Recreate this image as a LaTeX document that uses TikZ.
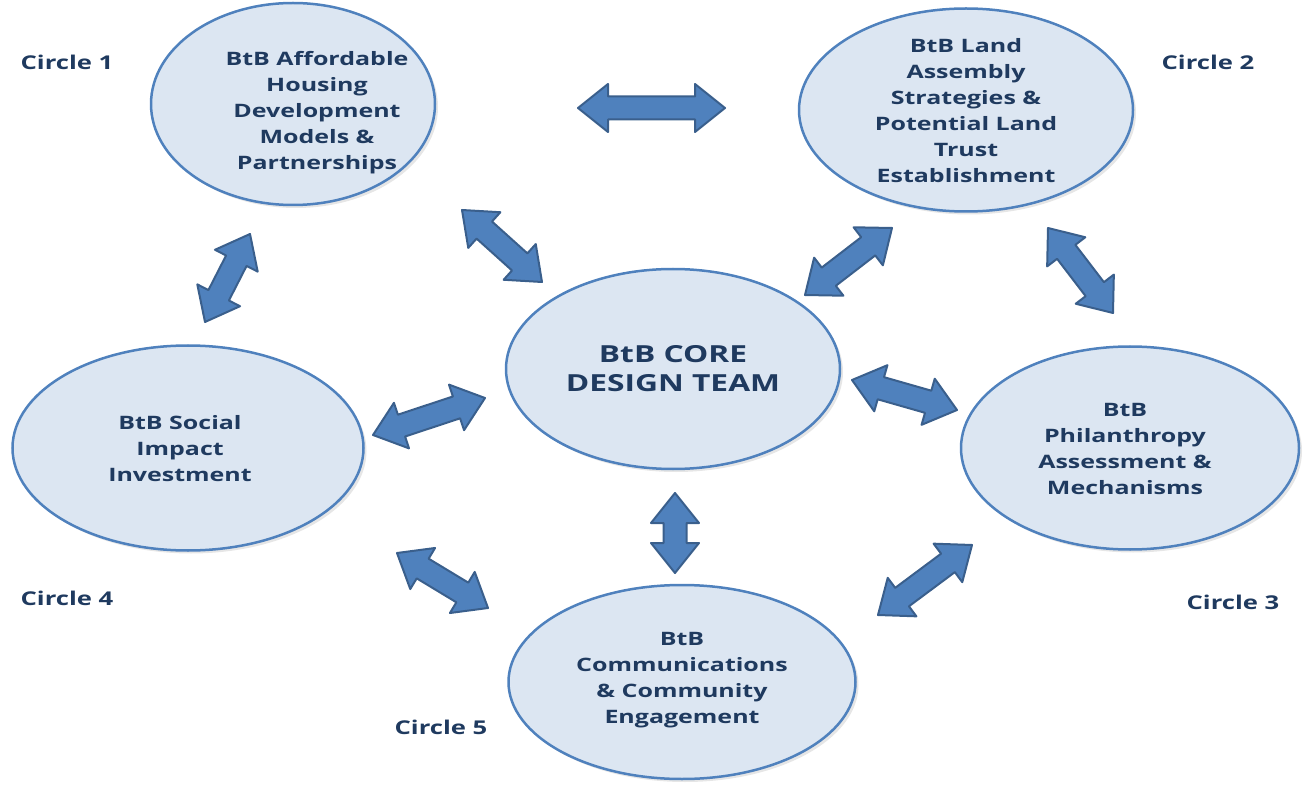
\documentclass[tikz,border=0pt]{standalone}
\usepackage{fontspec}
\setmainfont{Open Sans}[FakeStretch=1.35]
\usetikzlibrary{shapes.geometric,calc,shadows}

\definecolor{circfill}{HTML}{DCE6F2}
\definecolor{circline}{HTML}{4F81BD}
\definecolor{arrfill}{HTML}{4F81BD}
\definecolor{arrline}{HTML}{3A5F8C}
\definecolor{navy}{HTML}{1F3A5F}

\tikzset{
  circ/.style={ellipse, draw=circline, line width=2.5pt, fill=circfill, inner sep=0pt,
    drop shadow={opacity=0.2, shadow xshift=3pt, shadow yshift=-3pt}},
  circtext/.style={text=navy, font=\bfseries\fontsize{18.5}{26}\selectfont, align=center},
  coretext/.style={text=navy, font=\bfseries\fontsize{23.5}{29}\selectfont, align=center},
  circlabel/.style={text=navy, font=\bfseries\fontsize{19}{24}\selectfont},
  arrowbody/.style={fill=arrfill, draw=arrline, line width=2pt, line join=round},
}

% double block arrow from #1 to #2
\newcommand{\dblarrow}[2]{%
  \filldraw[arrowbody] (#1)
    -- ($(#1)!30pt!(#2)!24pt!90:(#2)$)
    -- ($(#1)!30pt!(#2)!11.5pt!90:(#2)$)
    -- ($(#2)!30pt!(#1)!11.5pt!-90:(#1)$)
    -- ($(#2)!30pt!(#1)!24pt!-90:(#1)$)
    -- (#2)
    -- ($(#2)!30pt!(#1)!24pt!90:(#1)$)
    -- ($(#2)!30pt!(#1)!11.5pt!90:(#1)$)
    -- ($(#1)!30pt!(#2)!11.5pt!-90:(#2)$)
    -- ($(#1)!30pt!(#2)!24pt!-90:(#2)$)
    -- cycle;}

\begin{document}
\begin{tikzpicture}[x=1pt,y=-1pt]
  \useasboundingbox (0,0) rectangle (1307,786);

  %circles
  \node[circ, minimum width=284pt, minimum height=202pt] (c1) at (293,104) {};
  \node[circ, minimum width=334pt, minimum height=203pt] (c2) at (966,110) {};
  \node[circ, minimum width=334pt, minimum height=200pt] (core) at (673,369) {};
  \node[circ, minimum width=338pt, minimum height=203pt] (c3) at (1130,448) {};
  \node[circ, minimum width=351pt, minimum height=205pt] (c4) at (188,448) {};
  \node[circ, minimum width=347pt, minimum height=194pt] (c5) at (682,682) {};

  %circle texts
  \node[circtext] (c1txt) at ([xshift=24pt,yshift=-9pt]c1.center) {BtB Affordable\\Housing\\Development\\Models \&\\Partnerships};
  \node[circtext] (c2txt) at ([yshift=-1pt]c2.center) {BtB Land\\Assembly\\Strategies \&\\Potential Land\\Trust\\Establishment};
  \node[coretext] (coretxt) at ([yshift=0pt]core.center) {BtB CORE\\DESIGN TEAM};
  \node[circtext] (c3txt) at ([xshift=-5pt,yshift=-1pt]c3.center) {BtB\\Philanthropy\\Assessment \&\\Mechanisms};
  \node[circtext] (c4txt) at ([xshift=-8pt,yshift=-1pt]c4.center) {BtB Social\\Impact\\Investment};
  \node[circtext] (c5txt) at ([yshift=2pt]c5.center) {BtB\\Communications\\\& Community\\Engagement};

  %labels
  \node[circlabel] (lab1) at (67,62) {Circle 1};
  \node[circlabel] (lab2) at (1208,62) {Circle 2};
  \node[circlabel] (lab3) at (1233,602) {Circle 3};
  \node[circlabel] (lab4) at (67,598) {Circle 4};
  \node[circlabel] (lab5) at (441,727) {Circle 5};

  %arrow ends
  \coordinate (a1s) at (578,108);  \coordinate (a1e) at (725,108);
  \coordinate (a2s) at (462,210);  \coordinate (a2e) at (542,282);
  \coordinate (a3s) at (205,322);  \coordinate (a3e) at (250,234);
  \coordinate (a4s) at (805,295);  \coordinate (a4e) at (892,228);
  \coordinate (a5s) at (1048,228); \coordinate (a5e) at (1113,313);
  \coordinate (a6s) at (373,435);  \coordinate (a6e) at (485,398);
  \coordinate (a7s) at (852,380);  \coordinate (a7e) at (957,410);
  \coordinate (a8s) at (675,493);  \coordinate (a8e) at (675,573);
  \coordinate (a9s) at (397,553);  \coordinate (a9e) at (488,608);
  \coordinate (a10s) at (878,615); \coordinate (a10e) at (972,545);

  %arrows
  \foreach \i in {1,...,10}{
    \dblarrow{a\i s}{a\i e}
  }
\end{tikzpicture}
\end{document}
